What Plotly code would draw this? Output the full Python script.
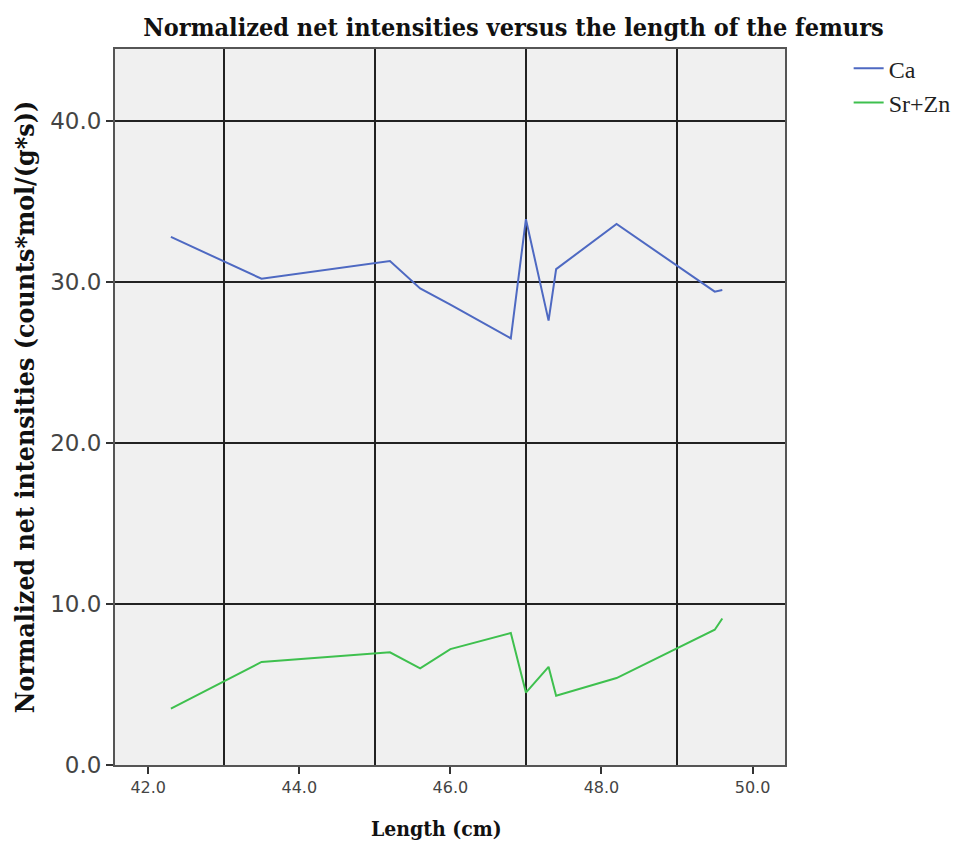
import plotly.graph_objects as go

# Femur length (cm) and normalized net intensities
length_cm = [42.3, 43.5, 45.2, 45.6, 46.0, 46.8, 47.0, 47.3, 47.4, 48.2, 49.5, 49.6]
ca = [32.8, 30.2, 31.3, 29.6, 28.6, 26.5, 33.9, 27.6, 30.8, 33.6, 29.4, 29.5]
sr_zn = [3.5, 6.4, 7.0, 6.0, 7.2, 8.2, 4.5, 6.1, 4.3, 5.4, 8.4, 9.1]

x_ticks = [42.0, 44.0, 46.0, 48.0, 50.0]
x_grid = [43, 45, 47, 49]
y_ticks = [0.0, 10.0, 20.0, 30.0, 40.0]

SERIF_BOLD = "DejaVu Serif Condensed, DejaVu Serif"

fig = go.Figure()
fig.add_trace(go.Scatter(x=length_cm, y=ca, mode="lines", name="Ca",
                         legendgroup="ca",
                         line=dict(color="#4e69c2", width=2)))
fig.add_trace(go.Scatter(x=length_cm, y=sr_zn, mode="lines", name="Sr+Zn",
                         legendgroup="srzn",
                         line=dict(color="#3ec04e", width=2)))

fig.update_layout(
    width=977, height=846,
    margin=dict(l=115, r=192, t=49, b=81),
    paper_bgcolor="white",
    plot_bgcolor="#f0f0f0",
    title=dict(text="<b>Normalized net intensities versus the length of the femurs</b>",
               x=0.5256, xanchor="center", xref="container",
               y=0.968, yanchor="middle",
               font=dict(family=SERIF_BOLD, size=25, color="#111")),
    legend=dict(x=1.095, xanchor="left", y=1.004, yanchor="top",
                xref="paper", yref="paper",
                font=dict(family="Liberation Serif", size=24, color="#222"),
                bgcolor="rgba(0,0,0,0)", tracegroupgap=0,
                itemwidth=30),
    showlegend=True,
    annotations=[dict(text="<b>Length (cm)</b>", xref="paper", yref="paper",
                      x=0.48, y=0, yshift=-63, xanchor="center", yanchor="middle",
                      showarrow=False,
                      font=dict(family=SERIF_BOLD, size=21, color="#111"))],
)

fig.update_xaxes(
    range=[41.56, 50.43],
    tickvals=x_ticks, ticktext=[f"{v:.1f}" for v in x_ticks],
    ticks="outside", ticklen=7, tickwidth=2, tickcolor="#333",
    tickfont=dict(family="DejaVu Sans", size=16, color="#444"),
    showgrid=False, zeroline=False,
    showline=True, linecolor="#555", linewidth=2, mirror=True,
    minor=dict(tickvals=x_grid, showgrid=True, gridcolor="#222", gridwidth=2, ticks=""),
)
fig.update_yaxes(
    range=[0, 44.47],
    tickvals=y_ticks, ticktext=[f"{v:.1f}" for v in y_ticks],
    ticks="outside", ticklen=7, tickwidth=2, tickcolor="#333",
    tickfont=dict(family="DejaVu Sans", size=23, color="#444"),
    showgrid=True, gridcolor="#222", gridwidth=2,
    zeroline=False,
    showline=True, linecolor="#555", linewidth=2, mirror=True,
    title=dict(text="<b>Normalized net intensities (counts*mol/(g*s))</b>", standoff=8,
               font=dict(family=SERIF_BOLD, size=26.5, color="#111")),
)

fig.write_html("out.html")
